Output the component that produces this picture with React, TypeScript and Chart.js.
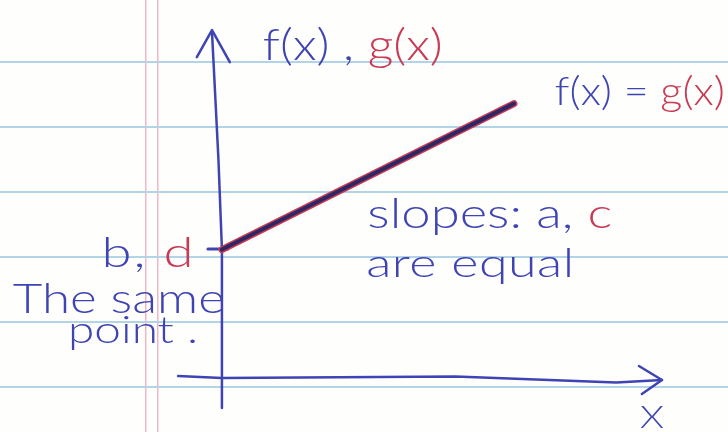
import { useEffect, useRef } from "react";
import { Chart, registerables } from "chart.js";

Chart.register(...registerables);

// Two linear functions with the same intercept and the same slope
const xValues = [0, 10];
const fValues = [4.4, 9.4];
const gValues = [4.4, 9.4];

// Hand-drawn axes (data units, origin where the axes cross)
const yAxisX = [-0.34, -0.12, 0, 0];
const yAxisY = [11.85, 7.5, 4.4, -1.03];
const yArrowX = [-0.86, -0.34, 0.27];
const yArrowY = [10.99, 11.92, 10.82];
const xAxisX = [-1.5, 0, 8, 13.5, 15.07];
const xAxisY = [0.07, 0, 0.05, -0.15, -0.07];
const xArrowX = [14.28, 15.07, 14.38];
const xArrowY = [0.41, -0.07, -0.55];
const interceptTickX = [-0.48, 0.2];
const interceptTickY = [4.42, 4.42];

// Ruled paper: blue lines and the pink margin
const paperRules = [0, 1, 2, 3, 4, 5];
const marginRules = [-2.6, -2.19];

const BLUE = "#3f44b4";
const RED = "#c93a55";
const INK = "#2c2866";

type Part = [string, string];
type Note = { x: number; y: number; size: number; w: number; parts: Part[] };

// Handwritten notes; w is the width the line of writing spreads over (px)
const notes: Note[] = [
  { x: 1.4, y: 10.89, size: 44, w: 180, parts: [["f(x) , ", BLUE], ["g(x)", RED]] },
  { x: 11.4, y: 9.35, size: 40, w: 170, parts: [["f(x) = ", BLUE], ["g(x)", RED]] },
  { x: 4.98, y: 5.14, size: 42, w: 245, parts: [["slopes: a, ", BLUE], ["c", RED]] },
  { x: 4.94, y: 3.46, size: 40, w: 208, parts: [["are equal", BLUE]] },
  { x: -4.12, y: 3.8, size: 42, w: 92, parts: [["b, ", BLUE], ["d", RED]] },
  { x: -7.16, y: 2.23, size: 42, w: 212, parts: [["The same", BLUE]] },
  { x: -5.27, y: 1.2, size: 38, w: 130, parts: [["point .", BLUE]] },
  { x: 14.32, y: -1.71, size: 32, w: 24, parts: [["X", BLUE]] },
];

const pts = (xs: number[], ys: number[]) => xs.map((x, i) => ({ x, y: ys[i] }));

const inkLine = (data: { x: number; y: number }[], color: string, width: number) => ({
  data,
  showLine: true,
  borderColor: color,
  borderWidth: width,
  pointRadius: 0,
  tension: 0,
  borderCapStyle: "round" as const,
  borderJoinStyle: "round" as const,
});

const paperPlugin = {
  id: "paper",
  beforeDraw(chart: any) {
    const { ctx, width, height } = chart;
    ctx.save();
    ctx.fillStyle = "#fefefd";
    ctx.fillRect(0, 0, width, height);
    ctx.restore();
  },
};

// Writes the notes, widening each line a little the way handwriting spreads
const notesPlugin = {
  id: "notes",
  afterDatasetsDraw(chart: any) {
    const { ctx, scales } = chart;
    for (const n of notes) {
      const left = scales.x.getPixelForValue(n.x);
      const base = scales.y.getPixelForValue(n.y);
      ctx.save();
      ctx.textBaseline = "alphabetic";
      ctx.textAlign = "left";
      ctx.font = `300 ${n.size}px Lato`;
      const full = n.parts.map((p) => p[0]).join("");
      const natural = ctx.measureText(full).width;
      const stretch = Math.min(Math.max(n.w / natural, 1), 1.3);
      const spacing =
        full.length > 1 ? Math.max(0, (n.w / stretch - natural) / (full.length - 1)) : 0;
      const widths = n.parts.map((p) => ctx.measureText(p[0]).width);
      ctx.translate(left, base);
      ctx.scale(stretch, 1);
      (ctx as any).letterSpacing = `${spacing}px`;
      let px = 0;
      n.parts.forEach(([text, color], i) => {
        ctx.fillStyle = color;
        ctx.fillText(text, px, 0);
        px += widths[i] + spacing * text.length;
      });
      ctx.restore();
    }
  },
};

export default function App() {
  const ref = useRef<HTMLCanvasElement>(null);

  useEffect(() => {
    if (!ref.current) return;
    const chart = new Chart(ref.current, {
      type: "scatter",
      data: {
        datasets: [
          // earlier datasets are painted last, so f(x) sits on top of g(x)
          inkLine(pts(xValues, fValues), INK, 4),
          inkLine(pts(xValues, gValues), RED, 7),
          inkLine(pts(yAxisX, yAxisY), BLUE, 2.5),
          inkLine(pts(yArrowX, yArrowY), BLUE, 2.5),
          inkLine(pts(xAxisX, xAxisY), BLUE, 2.5),
          inkLine(pts(xArrowX, xArrowY), BLUE, 2.5),
          inkLine(pts(interceptTickX, interceptTickY), BLUE, 3),
        ],
      },
      options: {
        animation: false,
        responsive: false,
        layout: { padding: 0 },
        plugins: { legend: { display: false }, tooltip: { enabled: false } },
        scales: {
          x: {
            type: "linear",
            min: -7.6,
            max: 17.33,
            border: { display: false },
            ticks: { display: false },
            grid: { color: "#f2b5c4", lineWidth: 1.5, drawTicks: false },
            afterBuildTicks: (s: any) => {
              s.ticks = marginRules.map((value) => ({ value }));
            },
          },
          y: {
            type: "linear",
            min: -1.85,
            max: 12.95,
            display: false,
          },
          rule: {
            type: "linear",
            position: "left",
            min: -0.692,
            max: 5.954,
            border: { display: false },
            ticks: { display: false },
            grid: { color: "#b3d3e6", lineWidth: 2, drawTicks: false },
            afterBuildTicks: (s: any) => {
              s.ticks = paperRules.map((value) => ({ value }));
            },
          },
        },
      },
      plugins: [paperPlugin, notesPlugin],
    });
    return () => chart.destroy();
  }, []);

  return (
    <div style={{ position: "absolute", left: 0, top: 0, width: 728, height: 432 }}>
      <canvas ref={ref} width={728} height={432} style={{ display: "block" }} />
    </div>
  );
}
